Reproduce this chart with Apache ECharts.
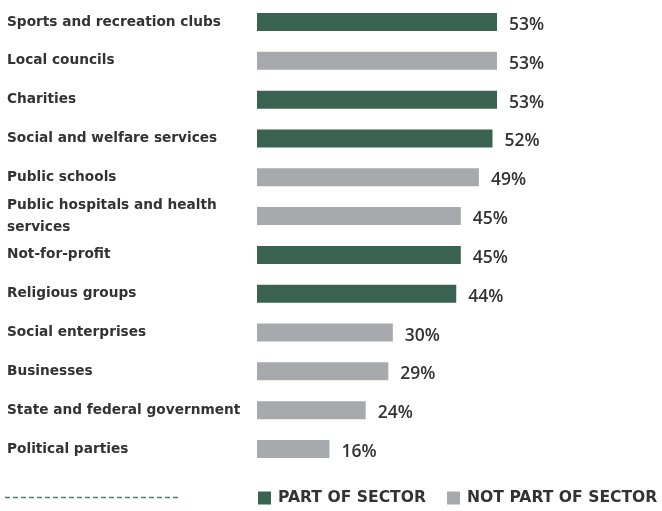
<!DOCTYPE html>
<html>
<head>
<meta charset="utf-8">
<script src="https://cdn.jsdelivr.net/npm/echarts@6/dist/echarts.min.js"></script>
<style>
  html, body { margin: 0; padding: 0; background: #fff; }
  #chart { width: 662px; height: 511px; }
</style>
</head>
<body>
<div id="chart"></div>
<script>
// Trust in institutions, by category
const categories = [
  'Sports and recreation clubs',
  'Local councils',
  'Charities',
  'Social and welfare services',
  'Public schools',
  'Public hospitals and health\nservices',
  'Not-for-profit',
  'Religious groups',
  'Social enterprises',
  'Businesses',
  'State and federal government',
  'Political parties'
];
const values = [53, 53, 53, 52, 49, 45, 45, 44, 30, 29, 24, 16];
// true = part of the sector
const partOfSector = [true, false, true, true, false, false, true, true, false, false, false, false];

const seriesNames = ['PART OF SECTOR', 'NOT PART OF SECTOR'];
const GREEN = '#3a6251';
const GREY = '#a8a9ad';

const partData = values.map((v, i) => partOfSector[i] ? v : '-');
const otherData = values.map((v, i) => partOfSector[i] ? '-' : v);

const chart = echarts.init(document.getElementById('chart'));
const WIDE = '"DejaVu Sans", sans-serif';

const labelCfg = {
  show: true,
  position: 'right',
  distance: 12,
  offset: [0, 3],
  formatter: '{c}%',
  color: '#333',
  fontFamily: '"Open Sans", sans-serif',
  fontWeight: 600,
  fontSize: 17.5
};

chart.setOption({
  animation: false,
  grid: { left: 257, top: 2.6, width: 271.7, height: 465.8, containLabel: false },
  xAxis: {
    type: 'value', min: 0, max: 60, show: false
  },
  yAxis: {
    type: 'category',
    data: categories,
    inverse: true,
    axisLine: { show: false },
    axisTick: { show: false },
    axisLabel: {
      align: 'left',
      margin: 250,
      color: '#333',
      fontFamily: WIDE,
      fontWeight: 'bold',
      fontSize: 13.7,
      lineHeight: 22
    }
  },
  legend: {
    left: 258,
    top: 490,
    width: 404,
    padding: 0,
    itemWidth: 13,
    itemHeight: 13,
    itemGap: 21,
    icon: 'rect',
    textStyle: { color: '#333', fontFamily: WIDE, fontWeight: 'bold', fontSize: 15.6, padding: [0, 0, 0, 2] },
    data: seriesNames
  },
  graphic: [{
    type: 'line',
    shape: { x1: 5, y1: 497.5, x2: 180, y2: 497.5 },
    style: { stroke: '#4d7d69', lineWidth: 1.4, lineDash: [5, 3] }
  }],
  series: [
    {
      name: seriesNames[0], type: 'bar', stack: 'all', data: partData,
      barWidth: 18, itemStyle: { color: GREEN }, label: labelCfg
    },
    {
      name: seriesNames[1], type: 'bar', stack: 'all', data: otherData,
      barWidth: 18, itemStyle: { color: GREY }, label: labelCfg
    }
  ]
});
</script>
</body>
</html>
